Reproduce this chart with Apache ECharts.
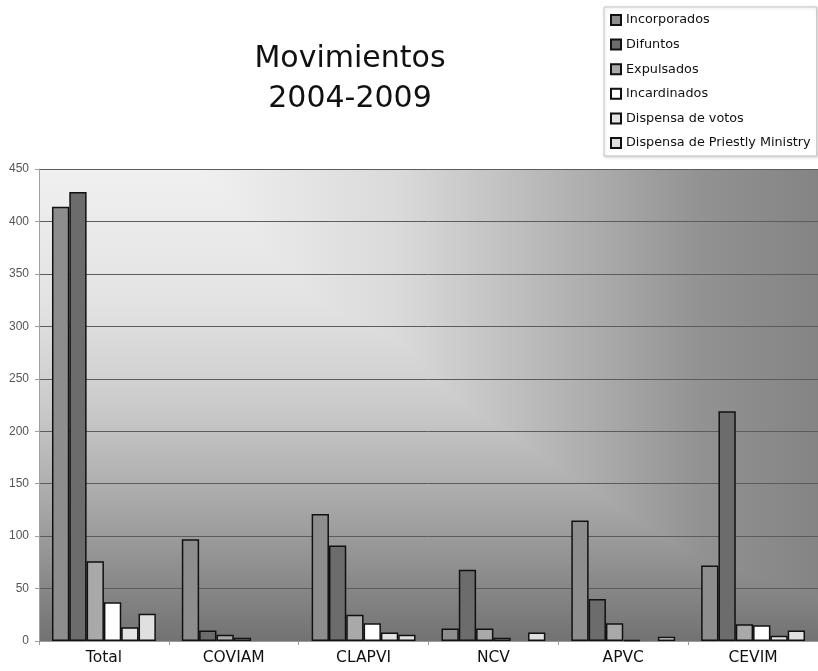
<!DOCTYPE html>
<html>
<head>
<meta charset="utf-8">
<script src="https://cdn.jsdelivr.net/npm/echarts@6/dist/echarts.min.js"></script>
<style>
html,body{margin:0;padding:0;background:#fff;}
#chart{width:818px;height:671px;}
</style>
</head>
<body>
<div id="chart"></div>
<script>
const categories = ['Total', 'COVIAM', 'CLAPVI', 'NCV', 'APVC', 'CEVIM'];
const incorporados = [414, 97, 121, 12, 115, 72];
const difuntos = [428, 10, 91, 68, 40, 219];
const expulsados = [76, 6, 25, 12, 17, 16];
const incardinados = [37, 3, 17, 3, 1, 15];
const dispensaVotos = [13, 0, 8, 0, 0, 5];
const dispensaPriestly = [26, 0, 6, 8, 4, 10];
const yTicks = [0, 50, 100, 150, 200, 250, 300, 350, 400, 450];

const seriesNames = ['Incorporados', 'Difuntos', 'Expulsados', 'Incardinados', 'Dispensa de votos', 'Dispensa de Priestly Ministry'];
const seriesData = [incorporados, difuntos, expulsados, incardinados, dispensaVotos, dispensaPriestly];
const seriesColors = ['#8d8d8d', '#6c6c6c', '#a9a9a9', '#ffffff', '#e4e4e4', '#e0e0e0'];

const GRID = {left: 39, top: 169, right: 0, bottom: 30};
const W = 818, H = 671;

const chart = echarts.init(document.getElementById('chart'), null, {renderer: 'canvas'});

const series = seriesNames.map((name, i) => ({
  name: name,
  type: 'bar',
  data: seriesData[i].map(v => v === 0 ? {value: v, itemStyle: {borderWidth: 0}} : v),
  barGap: '0%',
  barCategoryGap: '20%',
  z: 3,
  itemStyle: {
    color: seriesColors[i],
    borderColor: '#111',
    borderWidth: 1.5
  }
}));

const option = {
  backgroundColor: '#ffffff',
  animation: false,
  title: {
    text: 'Movimientos\n2004-2009',
    left: 345,
    top: 34,
    textAlign: 'center',
    textStyle: {
      fontFamily: 'DejaVu Sans',
      fontWeight: 'normal',
      fontSize: 30,
      lineHeight: 40,
      color: '#111'
    }
  },
  legend: {
    orient: 'vertical',
    left: 604,
    top: 7,
    padding: [6, 6, 6, 6],
    itemWidth: 10,
    itemHeight: 10,
    itemGap: 10.6,
    icon: 'rect',
    borderColor: '#c4c4c4',
    borderWidth: 1,
    backgroundColor: '#fff',
    shadowColor: 'rgba(0,0,0,0.15)',
    shadowBlur: 3,
    shadowOffsetX: 1,
    shadowOffsetY: 1,
    textStyle: {
      fontFamily: 'DejaVu Sans',
      fontSize: 12.8,
      lineHeight: 14,
      color: '#111'
    },
    data: seriesNames
  },
  grid: {
    left: GRID.left,
    top: GRID.top,
    right: GRID.right,
    bottom: GRID.bottom,
    show: true,
    borderWidth: 0,
    backgroundColor: new echarts.graphic.LinearGradient(0, 0, 0, 1, [
      {offset: 0, color: '#f0f0f0'},
      {offset: 0.28, color: '#e3e3e3'},
      {offset: 0.5, color: '#cbcbcb'},
      {offset: 0.72, color: '#a6a6a6'},
      {offset: 0.9, color: '#858585'},
      {offset: 1, color: '#727272'}
    ])
  },
  graphic: [{
    type: 'rect',
    left: GRID.left,
    top: GRID.top,
    z: 1,
    silent: true,
    shape: {width: W - GRID.left - GRID.right, height: H - GRID.top - GRID.bottom},
    style: {
      blend: 'darken',
      fill: new echarts.graphic.LinearGradient(0, 0, 1, 0, [
        {offset: 0, color: '#ffffff'},
        {offset: 0.18, color: '#f2f2f2'},
        {offset: 0.46, color: '#dadada'},
        {offset: 0.66, color: '#b6b6b6'},
        {offset: 0.85, color: '#929292'},
        {offset: 1, color: '#848484'}
      ])
    }
  }],
  xAxis: {
    type: 'category',
    data: categories,
    axisLine: {show: true, lineStyle: {color: '#9a9a9a', width: 1}},
    axisTick: {show: true, length: 4, lineStyle: {color: '#9a9a9a'}},
    axisLabel: {
      fontFamily: 'DejaVu Sans',
      fontSize: 15.5,
      color: '#111',
      margin: 9
    }
  },
  yAxis: {
    type: 'value',
    min: 0,
    max: 450,
    interval: 50,
    axisLine: {show: true, lineStyle: {color: '#a0a0a0', width: 1}},
    axisTick: {show: true, length: 4, lineStyle: {color: '#a0a0a0'}},
    axisLabel: {
      fontFamily: 'Liberation Sans',
      fontSize: 12,
      color: '#555',
      margin: 10,
      formatter: function (v) { return yTicks.indexOf(v) >= 0 ? String(v) : ''; }
    },
    splitLine: {show: true, lineStyle: {color: '#5c5c5c', width: 1}}
  },
  series: series
};

chart.setOption(option);
</script>
</body>
</html>
